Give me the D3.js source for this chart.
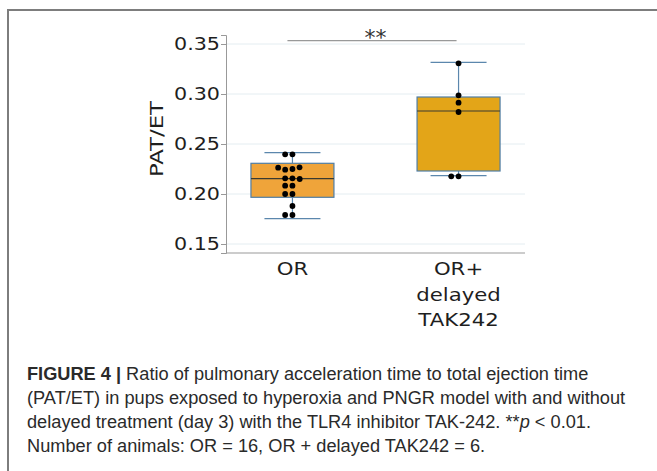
<!DOCTYPE html>
<html>
<head>
<meta charset="utf-8">
<script src="https://cdn.jsdelivr.net/npm/d3@7"></script>
<style>
  body { margin: 0; background: #fff; }
  svg { display: block; }
</style>
</head>
<body>
<script>
// groups and their raw values (PAT/ET)
const groups = ["OR", "OR+ delayed TAK242"];
const groupLabels = [["OR"], ["OR+", "delayed", "TAK242"]];
const orValues = [0.2397, 0.2397, 0.2250, 0.2243, 0.2267, 0.2263, 0.2157, 0.2157,
                  0.2150, 0.2083, 0.2083, 0.2000, 0.2000, 0.1880, 0.1790, 0.1790];
const takValues = [0.3307, 0.2987, 0.2913, 0.2820, 0.2177, 0.2177];
// box stats as drawn: [whiskerLow, q1, median, q3, whiskerHigh]
const orBox = [0.1753, 0.1967, 0.2153, 0.2307, 0.2413];
const takBox = [0.2183, 0.2230, 0.2830, 0.2970, 0.3317];
const boxColors = ["#efa43a", "#e3a518"];
const yTicks = [0.15, 0.20, 0.25, 0.30, 0.35];
const sigY = 0.3533;

const width = 657, height = 471;
const chartFont = "DejaVu Sans, Verdana, sans-serif";

const svg = d3.select("body").append("svg")
    .attr("width", width)
    .attr("height", height);

// frame
svg.append("line").attr("x1", 8).attr("x2", width).attr("y1", 10).attr("y2", 10)
    .attr("stroke", "#7d7d7d").attr("stroke-width", 2);
svg.append("line").attr("x1", 8).attr("x2", 8).attr("y1", 9).attr("y2", height)
    .attr("stroke", "#7d7d7d").attr("stroke-width", 2);

const y = d3.scaleLinear().domain([0.141, 0.359]).range([253, 35]);
const x = d3.scalePoint().domain(groups).range([226, 525]).padding(0.4);

// gridlines
svg.append("g").selectAll("line").data(yTicks).join("line")
    .attr("x1", 226).attr("x2", 525)
    .attr("y1", d => y(d)).attr("y2", d => y(d))
    .attr("stroke", "#e4edf1").attr("stroke-width", 1);

// y axis
const yAxis = svg.append("g")
    .attr("transform", "translate(226,0)")
    .call(d3.axisLeft(y).tickValues(yTicks).tickFormat(d3.format(".2f")).tickSize(5).tickPadding(1));
yAxis.select(".domain").attr("stroke", "#999");
yAxis.selectAll(".tick line").attr("stroke", "#999");
yAxis.selectAll(".tick text")
    .attr("font-family", chartFont)
    .attr("font-size", 18)
    .attr("fill", "#1e1e1e")
    .attr("textLength", 46)
    .attr("lengthAdjust", "spacingAndGlyphs");

// x axis line
svg.append("line").attr("x1", 226).attr("x2", 525).attr("y1", 253).attr("y2", 253)
    .attr("stroke", "#999").attr("stroke-width", 1.2);

// x labels, a little wider than the font draws them
groups.forEach((g, i) => {
    groupLabels[i].forEach((s, j) => {
        const t = svg.append("text")
            .attr("x", x(g)).attr("y", 275 + j * 25.5)
            .attr("text-anchor", "middle")
            .attr("font-family", chartFont)
            .attr("font-size", 18)
            .attr("fill", "#1e1e1e")
            .text(s);
        const w = t.node().getComputedTextLength();
        t.attr("textLength", w * 1.18).attr("lengthAdjust", "spacingAndGlyphs");
    });
});

// y label
svg.append("text")
    .attr("transform", "translate(163,139) rotate(-90)")
    .attr("text-anchor", "middle")
    .attr("font-family", chartFont)
    .attr("font-size", 18)
    .attr("fill", "#1e1e1e")
    .attr("textLength", 76)
    .attr("lengthAdjust", "spacingAndGlyphs")
    .text("PAT/ET");

// boxes
const boxes = [orBox, takBox];
const halfBox = 41.5, halfCap = 28;
boxes.forEach((b, i) => {
    const cx = x(groups[i]);
    const g = svg.append("g");
    g.append("line").attr("x1", cx).attr("x2", cx).attr("y1", y(b[0])).attr("y2", y(b[1]))
        .attr("stroke", "#5b87ad").attr("stroke-width", 1.2);
    g.append("line").attr("x1", cx).attr("x2", cx).attr("y1", y(b[3])).attr("y2", y(b[4]))
        .attr("stroke", "#5b87ad").attr("stroke-width", 1.2);
    [b[0], b[4]].forEach(v => {
        g.append("line").attr("x1", cx - halfCap).attr("x2", cx + halfCap)
            .attr("y1", y(v)).attr("y2", y(v))
            .attr("stroke", "#5b87ad").attr("stroke-width", 1.2);
    });
    g.append("rect")
        .attr("x", cx - halfBox).attr("width", halfBox * 2)
        .attr("y", y(b[3])).attr("height", y(b[1]) - y(b[3]))
        .attr("fill", boxColors[i])
        .attr("stroke", "#4f7ea6").attr("stroke-width", 1.2);
    g.append("line").attr("x1", cx - halfBox).attr("x2", cx + halfBox)
        .attr("y1", y(b[2])).attr("y2", y(b[2]))
        .attr("stroke", "#3a3a30").attr("stroke-width", 1.2);
});

// simple beeswarm: place each dot as close to the centre as it can go
function dodge(values, cx, dist) {
    const placed = [];
    values.forEach(v => {
        const py = y(v);
        const near = placed.filter(p => Math.abs(p.y - py) < dist);
        let cands = [0];
        near.forEach(p => {
            const dx = Math.sqrt(dist * dist - (p.y - py) * (p.y - py));
            cands.push(p.dx - dx, p.dx + dx);
        });
        cands.sort((a, b) => Math.abs(a) - Math.abs(b) || a - b);
        const ok = cands.find(c => near.every(p => {
            const ddx = p.dx - c, ddy = p.y - py;
            return ddx * ddx + ddy * ddy >= dist * dist - 0.01;
        }));
        placed.push({ y: py, dx: ok });
    });
    return placed.map(p => ({ x: cx + p.dx, y: p.y }));
}

[orValues, takValues].forEach((vals, i) => {
    const pts = dodge(vals, x(groups[i]), 7.3);
    svg.append("g").selectAll("circle").data(pts).join("circle")
        .attr("cx", d => d.x).attr("cy", d => d.y).attr("r", 2.9)
        .attr("fill", "#000");
});

// significance bar
svg.append("line")
    .attr("x1", x(groups[0]) - 5).attr("x2", x(groups[1]) - 2)
    .attr("y1", y(sigY)).attr("y2", y(sigY))
    .attr("stroke", "#999").attr("stroke-width", 1.2);
svg.append("text")
    .attr("x", (x(groups[0]) + x(groups[1])) / 2)
    .attr("y", 45)
    .attr("text-anchor", "middle")
    .attr("font-family", chartFont)
    .attr("font-size", 22)
    .attr("fill", "#333")
    .text("**");

// caption, squeezed evenly so the third line ends where it does in the figure
const capFont = "'Liberation Sans Narrow', 'Liberation Sans', Arial, sans-serif";
const cap = [
    [["FIGURE 4 | ", "bold", "normal"], ["Ratio of pulmonary acceleration time to total ejection time", "normal", "normal"]],
    [["(PAT/ET) in pups exposed to hyperoxia and PNGR model with and without", "normal", "normal"]],
    [["delayed treatment (day 3) with the TLR4 inhibitor TAK-242. **", "normal", "normal"], ["p", "normal", "italic"], [" < 0.01.", "normal", "normal"]],
    [["Number of animals: OR = 16, OR + delayed TAK242 = 6.", "normal", "normal"]]
];
const capLines = cap.map((parts, i) => {
    const t = svg.append("text")
        .attr("x", 27).attr("y", 380 + i * 24)
        .attr("font-family", capFont)
        .attr("font-size", 17.5)
        .attr("fill", "#2a2a2a");
    parts.forEach(p => {
        t.append("tspan").attr("font-weight", p[1]).attr("font-style", p[2])
            .attr("xml:space", "preserve").text(p[0]);
    });
    return t;
});
const widths = capLines.map(t => t.node().getComputedTextLength());
const squeeze = 564 / widths[2];
capLines.forEach((t, i) => {
    t.attr("textLength", widths[i] * squeeze).attr("lengthAdjust", "spacingAndGlyphs");
});
</script>
</body>
</html>
